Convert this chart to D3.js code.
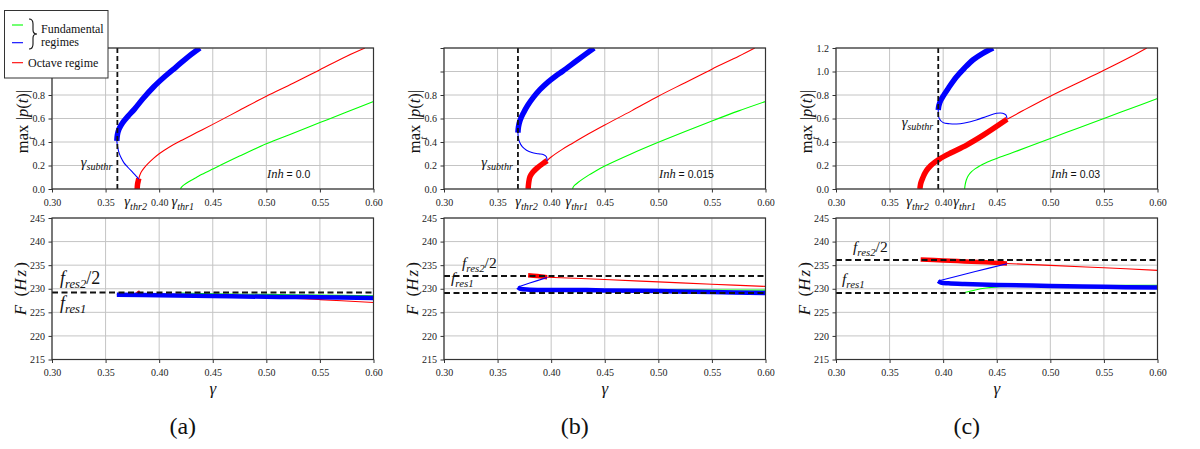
<!DOCTYPE html>
<html><head><meta charset="utf-8">
<script src="https://cdn.jsdelivr.net/npm/d3@7"></script>
<style>body{margin:0;background:#fff}svg{display:block}svg text{font-family:"Liberation Serif","DejaVu Serif",serif}</style>
</head><body>
<svg id="c" width="1200" height="449"></svg>
<script>
// ---------------- data ----------------
const X_TICKS = [0.30,0.35,0.40,0.45,0.50,0.55,0.60];
const AMP_TICKS = [0,0.2,0.4,0.6,0.8,1.0,1.2];
const AMP_LABELS_A = [0,0.2,0.4,0.6,0.8];
const AMP_LABELS_B = [0,0.2,0.4,0.6,0.8];
const AMP_LABELS_C = [0,0.2,0.4,0.6,0.8,1.0,1.2];
const FREQ_TICKS = [215,220,225,230,235,240,245];
const PANEL_LETTERS = ["(a)","(b)","(c)"];
const INH_VALUES = ["0.0","0.015","0.03"];
const GAMMA_SUBTHR = [0.361,0.369,0.3954];
const GAMMA_THR2 = [0.379,0.378,0.377];
const GAMMA_THR1 = [0.422,0.424,0.42];
const F_RES1 = [229.2,229.1,229.1];
const F_RES2_HALF = [229.2,232.7,236.1];

// panel (a) amplitude
const ampGreenA = [[0.42,0],[0.4205,0.012],[0.422,0.027],[0.425,0.047],[0.43,0.075],[0.435,0.10],[0.44,0.125],[0.45,0.17],[0.475,0.28],[0.50,0.385],[0.525,0.475],[0.55,0.565],[0.575,0.655],[0.60,0.745]];
const ampRedThickA = [[0.3795,0],[0.3798,0.04],[0.3805,0.07],[0.381,0.09]];
const ampRedThinA = [[0.381,0.09],[0.383,0.14],[0.386,0.18],[0.39,0.22],[0.395,0.263],[0.40,0.30],[0.41,0.36],[0.42,0.41],[0.435,0.48],[0.45,0.55],[0.475,0.67],[0.50,0.79],[0.525,0.90],[0.55,1.015],[0.575,1.13],[0.592,1.2]];
const ampBlueThickA = [[0.3605,0.41],[0.361,0.46],[0.3625,0.51],[0.366,0.565],[0.371,0.62],[0.377,0.68],[0.385,0.77],[0.395,0.87],[0.405,0.955],[0.416,1.04],[0.427,1.125],[0.438,1.2]];
const ampBlueThinA = [[0.3605,0.41],[0.3612,0.36],[0.3625,0.31],[0.3645,0.265],[0.367,0.225],[0.371,0.183],[0.3755,0.14],[0.3785,0.11],[0.381,0.085]];
// panel (a) frequency
const freqGreenA = [[0.42,229.1],[0.45,228.95],[0.50,228.8],[0.55,228.65],[0.60,228.5]];
const freqRedThinA = [[0.381,228.85],[0.40,228.7],[0.45,228.5],[0.50,228.2],[0.55,227.7],[0.60,227.1]];
const freqRedThickA = [[0.3795,229.4],[0.381,228.9]];
const freqBlueThinA = [[0.3605,228.75],[0.381,228.85]];
const freqBlueThickA = [[0.3605,228.75],[0.40,228.6],[0.45,228.45],[0.50,228.3],[0.55,228.2],[0.60,228.05]];

// panel (b) amplitude
const ampGreenB = [[0.42,0],[0.4205,0.015],[0.422,0.032],[0.425,0.055],[0.43,0.088],[0.435,0.118],[0.44,0.145],[0.45,0.195],[0.475,0.30],[0.50,0.397],[0.525,0.49],[0.55,0.579],[0.575,0.665],[0.60,0.745]];
const ampRedThickB = [[0.3785,0],[0.379,0.05],[0.3802,0.105],[0.383,0.145],[0.3865,0.176],[0.3925,0.218],[0.3963,0.241]];
const ampRedThinB = [[0.3963,0.241],[0.40,0.272],[0.41,0.335],[0.42,0.39],[0.435,0.47],[0.45,0.545],[0.475,0.665],[0.50,0.79],[0.525,0.905],[0.55,1.02],[0.575,1.13],[0.59,1.2]];
const ampBlueThickB = [[0.369,0.48],[0.3695,0.53],[0.371,0.585],[0.374,0.645],[0.378,0.71],[0.383,0.775],[0.3895,0.845],[0.397,0.91],[0.404,0.96],[0.411,1.005],[0.425,1.1],[0.44,1.2]];
const ampBlueThinB = [[0.369,0.48],[0.3693,0.44],[0.3705,0.40],[0.373,0.36],[0.377,0.33],[0.382,0.31],[0.388,0.30],[0.393,0.292],[0.3955,0.275],[0.3963,0.241]];
// panel (b) frequency
const freqGreenB = [[0.42,229.3],[0.425,229.55],[0.435,229.7],[0.45,229.75],[0.50,229.8],[0.55,229.75],[0.60,229.7]];
const freqRedThickB = [[0.3785,232.85],[0.387,232.7],[0.3963,232.45]];
const freqRedThinB = [[0.3963,232.45],[0.45,231.95],[0.50,231.45],[0.55,230.95],[0.60,230.5]];
const freqBlueThinB = [[0.369,230.35],[0.38,231.2],[0.3963,232.4]];
const freqBlueThickB = [[0.369,230.35],[0.3715,229.95],[0.38,229.8],[0.42,229.75],[0.45,229.65],[0.50,229.5],[0.55,229.3],[0.60,229.1]];

// panel (c) amplitude
const ampGreenC = [[0.42,0],[0.4205,0.035],[0.4216,0.077],[0.4235,0.115],[0.4265,0.147],[0.43,0.173],[0.434,0.196],[0.44,0.224],[0.45,0.26],[0.465,0.31],[0.48,0.362],[0.50,0.43],[0.525,0.515],[0.55,0.60],[0.575,0.685],[0.60,0.77]];
const ampRedThickC = [[0.3783,0],[0.3787,0.03],[0.3795,0.06],[0.381,0.095],[0.383,0.135],[0.3855,0.17],[0.3885,0.20],[0.392,0.227],[0.3965,0.255],[0.4064,0.304],[0.4219,0.374],[0.4374,0.458],[0.4596,0.593]];
const ampRedThinC = [[0.4596,0.593],[0.475,0.67],[0.50,0.79],[0.525,0.90],[0.55,1.01],[0.575,1.125],[0.59,1.2]];
const ampBlueThickC = [[0.3954,0.672],[0.396,0.71],[0.3975,0.75],[0.40,0.79],[0.405,0.86],[0.4125,0.955],[0.42,1.03],[0.428,1.10],[0.437,1.155],[0.4466,1.2]];
const ampBlueThinC = [[0.3954,0.672],[0.3956,0.63],[0.3963,0.60],[0.40,0.565],[0.406,0.555],[0.4125,0.553],[0.42,0.562],[0.431,0.587],[0.441,0.62],[0.4498,0.644],[0.4555,0.645],[0.4585,0.63],[0.4596,0.60]];
// panel (c) frequency
const freqGreenC = [[0.42,229.2],[0.43,229.75],[0.44,230.15],[0.45,230.4],[0.47,230.55],[0.50,230.65],[0.55,230.7],[0.60,230.75]];
const freqRedThickC = [[0.379,236.2],[0.40,236.0],[0.42,235.8],[0.44,235.6],[0.4596,235.35]];
const freqRedThinC = [[0.4596,235.35],[0.50,234.95],[0.55,234.45],[0.60,233.9]];
const freqBlueThinC = [[0.3954,231.65],[0.41,232.5],[0.43,233.65],[0.4596,235.3]];
const freqBlueThickC = [[0.3954,231.65],[0.398,231.3],[0.405,231.15],[0.42,231.0],[0.45,230.8],[0.50,230.6],[0.55,230.4],[0.60,230.25]];

// ---------------- layout / style ----------------
const SERIF = "Liberation Serif, DejaVu Serif, serif";
const SANS = "Liberation Sans, DejaVu Sans, sans-serif";
const COL = {g:"#00ff00", r:"#ff0000", b:"#0000ff"};
const PANEL_X0 = [52,444,836];
const PANEL_W = 321.5;
const AMP_Y = [48,189];
const FREQ_Y = [218,359.5];

const panels = [
  { amp:[[ampGreenA,"g",0],[ampRedThinA,"r",0],[ampRedThickA,"r",1],[ampBlueThinA,"b",0],[ampBlueThickA,"b",1]],
    freq:[[freqGreenA,"g",0],[freqRedThinA,"r",0],[freqRedThickA,"r",1],[freqBlueThinA,"b",0],[freqBlueThickA,"b",1]],
    ampLabels:AMP_LABELS_A, subY:0.19, fres2:{dx:8,dy:-9,fs:18}, fres1:{dx:8,dy:16,fs:18}, oneLine:true },
  { amp:[[ampGreenB,"g",0],[ampRedThinB,"r",0],[ampRedThickB,"r",1],[ampBlueThinB,"b",0],[ampBlueThickB,"b",1]],
    freq:[[freqGreenB,"g",0],[freqRedThinB,"r",0],[freqRedThickB,"r",1],[freqBlueThinB,"b",0],[freqBlueThickB,"b",1]],
    ampLabels:AMP_LABELS_B, subY:0.19, fres2:{dx:18,dy:-8,fs:15.5}, fres1:{dx:7,dy:-10,fs:15.5}, oneLine:false },
  { amp:[[ampGreenC,"g",0],[ampRedThinC,"r",0],[ampRedThickC,"r",1],[ampBlueThinC,"b",0],[ampBlueThickC,"b",1]],
    freq:[[freqGreenC,"g",0],[freqRedThinC,"r",0],[freqRedThickC,"r",1],[freqBlueThinC,"b",0],[freqBlueThickC,"b",1]],
    ampLabels:AMP_LABELS_C, subY:0.53, fres2:{dx:17,dy:-7.5,fs:15.5}, fres1:{dx:6,dy:-9,fs:15.5}, oneLine:false }
];

const svg = d3.select("#c");
let clipId = 0;

function mathText(parent, x, y, parts, fs, anchor){
  const t = parent.append("text").attr("x",x).attr("y",y)
    .style("font-family",SERIF).attr("font-size",fs).attr("text-anchor",anchor||"start").attr("fill","#111");
  let cur = 0;
  parts.forEach(p=>{
    const ts = t.append("tspan").text(p.t);
    if(p.i) ts.attr("font-style","italic");
    const want = p.sub ? fs*0.25 : 0;
    if(p.sub) ts.attr("font-size",fs*0.7);
    if(p.ff) ts.style("font-family",p.ff);
    if(p.fs) ts.attr("font-size",p.fs);
    if(want!==cur){ ts.attr("dy",want-cur); cur=want; }
  });
  return t;
}

function drawAxes(x, y, yTicks){
  const [x0,x1] = x.range(); const [yb,yt] = y.range();
  const g = svg.append("g");
  g.selectAll(".gx").data(X_TICKS).join("line")
    .attr("x1",d=>x(d)).attr("x2",d=>x(d)).attr("y1",yt).attr("y2",yb)
    .attr("stroke","#c4c4c4").attr("stroke-width",1);
  g.selectAll(".gy").data(yTicks).join("line")
    .attr("x1",x0).attr("x2",x1).attr("y1",d=>y(d)).attr("y2",d=>y(d))
    .attr("stroke","#c4c4c4").attr("stroke-width",1);
  return g;
}
function drawSpines(x, y, yTicks, yLabels, yFmt){
  const [x0,x1] = x.range(); const [yb,yt] = y.range();
  const ax = svg.append("g").attr("transform",`translate(0,${yb})`)
    .call(d3.axisBottom(x).tickValues(X_TICKS).tickFormat(d3.format(".2f")).tickSize(3.5).tickPadding(6));
  const ay = svg.append("g").attr("transform",`translate(${x0},0)`)
    .call(d3.axisLeft(y).tickValues(yTicks).tickFormat(d=>yLabels.includes(d)?yFmt(d):"").tickSize(3.5).tickPadding(3.5));
  [ax,ay].forEach(a=>{
    a.attr("font-family",null).attr("font-size",null);
    a.select(".domain").remove();
    a.selectAll(".tick line").attr("stroke","#333").attr("stroke-width",1);
    a.selectAll(".tick text").style("font-family",SERIF).style("font-size","10px").attr("fill","#222");
  });
  svg.append("rect").attr("x",x0).attr("y",yt).attr("width",x1-x0).attr("height",yb-yt)
    .attr("fill","none").attr("stroke","#333").attr("stroke-width",1.2);
}
function drawSeries(x, y, list, thickW){
  const [x0,x1] = x.range(); const [yb,yt] = y.range();
  const id = "clip"+(clipId++);
  svg.append("clipPath").attr("id",id).append("rect").attr("x",x0).attr("y",yt).attr("width",x1-x0).attr("height",yb-yt);
  const g = svg.append("g").attr("clip-path",`url(#${id})`);
  const line = d3.line().x(d=>x(d[0])).y(d=>y(d[1])).curve(d3.curveCatmullRom.alpha(0.5));
  list.forEach(([data,c,thick])=>{
    g.append("path").attr("d",line(data)).attr("fill","none").attr("stroke",COL[c])
      .attr("stroke-width",thick?thickW:1.1).attr("stroke-linejoin","round").attr("stroke-linecap","butt");
  });
  return g;
}

panels.forEach((p,i)=>{
  const x0 = PANEL_X0[i];
  const x = d3.scaleLinear().domain([0.30,0.60]).range([x0,x0+PANEL_W]);
  const yA = d3.scaleLinear().domain([0,1.2]).range([AMP_Y[1],AMP_Y[0]]);
  const yF = d3.scaleLinear().domain([215,245]).range([FREQ_Y[1],FREQ_Y[0]]);

  // ----- amplitude panel -----
  drawAxes(x,yA,AMP_TICKS);
  drawSeries(x,yA,p.amp,5.5);
  svg.append("line").attr("x1",x(GAMMA_SUBTHR[i])).attr("x2",x(GAMMA_SUBTHR[i]))
    .attr("y1",AMP_Y[0]).attr("y2",AMP_Y[1]).attr("stroke","#111").attr("stroke-width",1.8).attr("stroke-dasharray","5,3");
  drawSpines(x,yA,AMP_TICKS,p.ampLabels,d3.format(".1f"));
  mathText(svg, x(GAMMA_SUBTHR[i])-5, yA(p.subY), [{t:"γ",i:1},{t:"subthr",i:1,sub:1}], 14.5, "end");
  mathText(svg, x(GAMMA_THR2[i])-1, AMP_Y[1]+17, [{t:"γ",i:1},{t:"thr2",i:1,sub:1}], 14.5, "middle");
  mathText(svg, x(GAMMA_THR1[i]), AMP_Y[1]+17, [{t:"γ",i:1},{t:"thr1",i:1,sub:1}], 14.5, "middle");
  mathText(svg, x0+215, AMP_Y[1]-11, [{t:"Inh",i:1},{t:" = "+INH_VALUES[i],ff:SANS,fs:10.5}], 12.5, "start");
  // y label
  const gl = svg.append("g").attr("transform",`translate(${x0-24},${(AMP_Y[0]+AMP_Y[1])/2+3}) rotate(-90)`);
  const tl = gl.append("text").attr("text-anchor","middle").style("font-family",SERIF).attr("font-size",16.5).attr("fill","#111");
  tl.append("tspan").text("max");
  tl.append("tspan").attr("font-size",11).attr("font-style","italic").attr("dx",-15).attr("dy",7).text("t");
  tl.append("tspan").attr("dx",13).attr("dy",-7).text("\u2009|");
  tl.append("tspan").attr("font-style","italic").text("p");
  tl.append("tspan").text("(");
  tl.append("tspan").attr("font-style","italic").text("t");
  tl.append("tspan").text(")|");

  // ----- frequency panel -----
  drawAxes(x,yF,FREQ_TICKS);
  drawSeries(x,yF,p.freq,4.5);
  const hl = p.oneLine ? [F_RES1[i]] : [F_RES2_HALF[i],F_RES1[i]];
  hl.forEach(v=>{
    svg.append("line").attr("x1",x0).attr("x2",x0+PANEL_W).attr("y1",yF(v)).attr("y2",yF(v))
      .attr("stroke","#111").attr("stroke-width",1.8).attr("stroke-dasharray","6,3.5");
  });
  drawSpines(x,yF,FREQ_TICKS,FREQ_TICKS,d3.format("d"));
  mathText(svg, x0+p.fres2.dx, yF(F_RES2_HALF[i])+p.fres2.dy, [{t:"f",i:1},{t:"res2",i:1,sub:1},{t:"/2"}], p.fres2.fs, "start");
  mathText(svg, x0+p.fres1.dx, yF(F_RES1[i])+p.fres1.dy, [{t:"f",i:1},{t:"res1",i:1,sub:1}], p.fres1.fs, "start");
  const gf = svg.append("g").attr("transform",`translate(${x0-26},${(FREQ_Y[0]+FREQ_Y[1])/2}) rotate(-90)`);
  const tf = gf.append("text").attr("text-anchor","middle").style("font-family",SERIF).attr("font-size",17).attr("fill","#111");
  tf.append("tspan").attr("font-style","italic").text("F");
  tf.append("tspan").text("\u2002(");
  tf.append("tspan").attr("font-style","italic").attr("letter-spacing",2).text("Hz");
  tf.append("tspan").text(")");
  // x label and panel letter
  svg.append("text").attr("x",x0+PANEL_W/2).attr("y",394).attr("text-anchor","middle")
    .style("font-family",SERIF).attr("font-style","italic").attr("font-size",17).attr("fill","#111").text("γ");
  svg.append("text").attr("x",x0+PANEL_W/2-30).attr("y",434).attr("text-anchor","middle")
    .style("font-family",SERIF).attr("font-size",24).attr("fill","#111").text(PANEL_LETTERS[i]);
});

// ----- legend (panel a) -----
const lg = svg.append("g");
lg.append("rect").attr("x",4.5).attr("y",10.5).attr("width",103.5).attr("height",67.5)
  .attr("fill","#fff").attr("stroke","#333").attr("stroke-width",1);
[["g",25],["b",42.7],["r",62.7]].forEach(([c,yy])=>{
  lg.append("line").attr("x1",12).attr("x2",23).attr("y1",yy).attr("y2",yy).attr("stroke",COL[c]).attr("stroke-width",1.1);
});
lg.append("path").attr("d","M29,19 Q33,19 33,24 L33,30 Q33,34 37,34 Q33,34 33,38 L33,44 Q33,49 29,49")
  .attr("fill","none").attr("stroke","#111").attr("stroke-width",1.1);
[["Fundamental",41,32.5],["regimes",41,46],["Octave regime",28,67]].forEach(([s,xx,yy])=>{
  lg.append("text").attr("x",xx).attr("y",yy).style("font-family",SERIF).attr("font-size",12).attr("fill","#111").text(s);
});
</script>
</body></html>
